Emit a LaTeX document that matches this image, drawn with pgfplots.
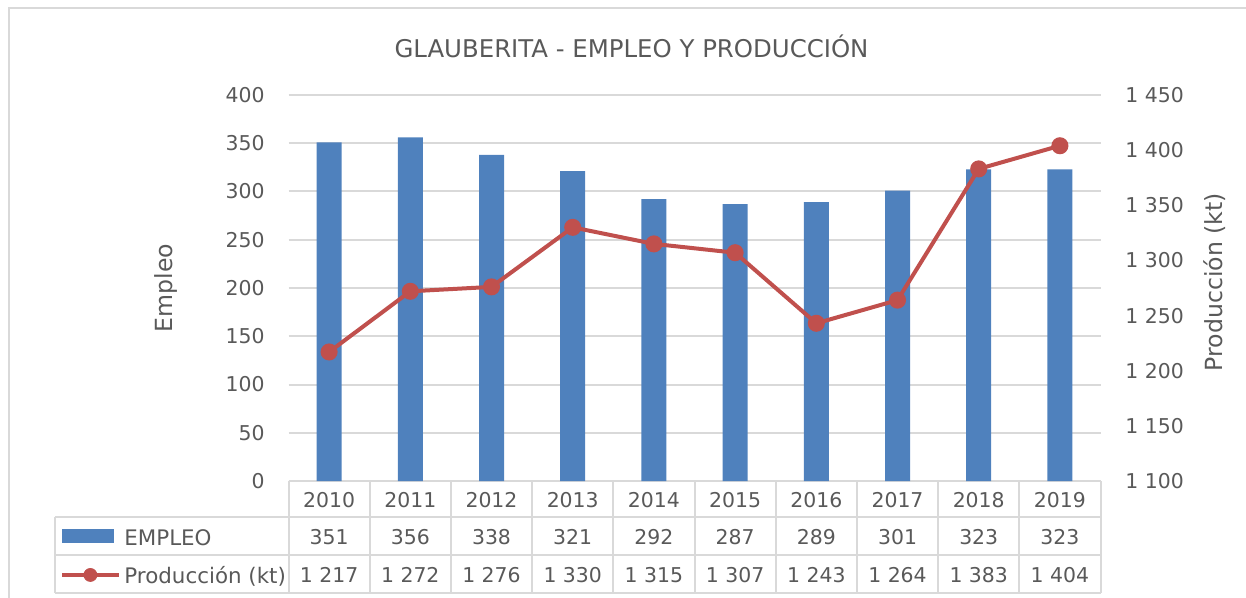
\documentclass[border=0pt]{standalone}
\usepackage{pgfplots}
\pgfplotsset{compat=1.18}
\usepackage{pgfplotstable}
\usepackage{fontspec}
\setmainfont{DejaVu Sans}

\definecolor{txt}{HTML}{595959}
\definecolor{grd}{HTML}{D9D9D9}
\definecolor{barblue}{HTML}{4F81BD}
\definecolor{linered}{HTML}{C0504D}

% x  year  empleo  produccion (kt)
\pgfplotstableread{
x year emp prod
0 2010 351 1217
1 2011 356 1272
2 2012 338 1276
3 2013 321 1330
4 2014 292 1315
5 2015 287 1307
6 2016 289 1243
7 2017 301 1264
8 2018 323 1383
9 2019 323 1404
}\data

\pgfplotsset{
  barimg/.style={legend image code/.code={\fill[barblue] (0pt,-1.5pt) rectangle (26pt,5.5pt);}},
  lineimg/.style={legend image code/.code={%
    \draw[linered, line width=2pt] (0pt,2pt) -- (28.5pt,2pt);
    \fill[linered] (14pt,2pt) circle (3.25pt);}},
  chartbox/.style={
    at={(144.25pt,-240.5pt)}, anchor=south west,
    scale only axis, width=406pt, height=193pt,
    xmin=-0.5, xmax=9.5,
    axis line style={draw=none}, tick style={draw=none},
    tick label style={text=txt, font=\fontsize{10.2}{12}\selectfont, inner sep=0pt},
    label style={text=txt, font=\fontsize{11.8}{14}\selectfont},
    /pgf/number format/assume math mode=true,
  },
}

\begin{document}
\begin{tikzpicture}
\useasboundingbox (0,0) rectangle (623pt,-299pt);
\draw[grd, line width=1pt] (4.25pt,-299pt) -- (4.25pt,-4.25pt) -- (623pt,-4.25pt);
\node[text=txt, font=\fontsize{12.2}{14}\selectfont] at (315.75pt,-23pt) {GLAUBERITA - EMPLEO Y PRODUCCIÓN};

\begin{axis}[chartbox, name=chartL,
  ymin=0, ymax=400, ytick={0,50,...,400},
  yticklabel style={xshift=-11.75pt},
  xtick={0,...,9},
  xticklabels={{2010\\351\\1 217},{2011\\356\\1 272},{2012\\338\\1 276},{2013\\321\\1 330},{2014\\292\\1 315},
               {2015\\287\\1 307},{2016\\289\\1 243},{2017\\301\\1 264},{2018\\323\\1 383},{2019\\323\\1 404}},
  xticklabel style={align=center, anchor=north, yshift=-5.3pt, font=\fontsize{10.2}{18.8}\selectfont},
  ymajorgrids, major grid style={grd, line width=1pt},
  ylabel={Empleo},
  ylabel style={at={(axis description cs:-0.151,0.5)}, anchor=center},
  legend style={at={(axis description cs:-0.2814,-0.2021)}, anchor=west, draw=none, fill=none,
    inner sep=0pt, column sep=1.5pt, row sep=9pt,
    nodes={inner sep=0pt, text height=7.5pt, text depth=2.5pt, text=txt, font=\fontsize{10.7}{12}\selectfont}},
  legend cell align=left,
]
\addplot[ybar, bar width=12.5pt, fill=barblue, draw=none, barimg] table[x=x, y=emp]{\data};
\addlegendentry{EMPLEO}
\addlegendimage{lineimg}
\addlegendentry{Producción (kt)}
\end{axis}

\begin{axis}[chartbox,
  ymin=1100, ymax=1450, ytick={1100,1150,...,1450},
  axis y line*=right, hide x axis,
  yticklabel style={anchor=west, xshift=12.25pt, /pgf/number format/1000 sep={\ }},
  ylabel={Producción (kt)},
  ylabel style={at={(axis description cs:1.141,0.515)}, anchor=center},
]
\addplot[linered, line width=2pt, mark=*, mark size=3.25pt, mark options={fill=linered, draw=linered}]
  table[x=x, y=prod]{\data};
\end{axis}

\begin{scope}[grd, line width=1pt]
\foreach \k in {0,...,10}
  \draw ([xshift=\k*40.6pt]chartL.south west) -- ++(0,-56pt);
\foreach \d in {18,37,56}
  \draw ([xshift=-116.75pt,yshift=-\d pt]chartL.south west) -- ([yshift=-\d pt]chartL.south east);
\draw ([xshift=-116.75pt,yshift=-18pt]chartL.south west) -- ++(0,-38pt);
\end{scope}
\end{tikzpicture}
\end{document}
